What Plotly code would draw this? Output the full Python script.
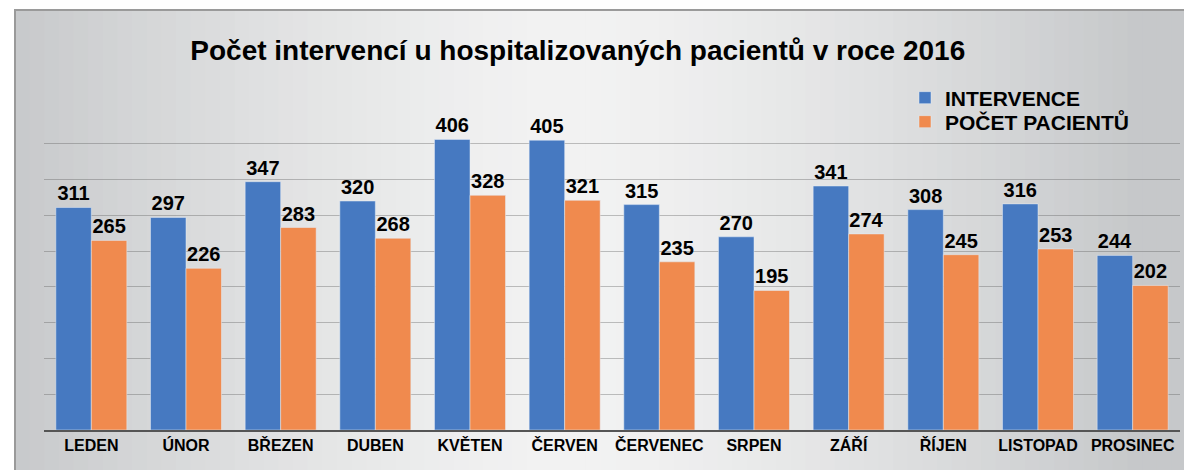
import plotly.graph_objects as go

# Data
mesice = ["LEDEN", "ÚNOR", "BŘEZEN", "DUBEN", "KVĚTEN", "ČERVEN",
          "ČERVENEC", "SRPEN", "ZÁŘÍ", "ŘÍJEN", "LISTOPAD", "PROSINEC"]
intervence = [311, 297, 347, 320, 406, 405, 315, 270, 341, 308, 316, 244]
pocet_pacientu = [265, 226, 283, 268, 328, 321, 235, 195, 274, 245, 253, 202]

W, H = 1184, 470
ML, MR, MT, MB = 44, 4, 108, 40
plot_w = W - ML - MR
plot_h = H - MT - MB
font = "Liberation Sans, Arial, sans-serif"


def px_x(p):
    return (p - ML) / plot_w


def px_y(p):
    return (H - MB - p) / plot_h


fig = go.Figure()

fig.add_trace(go.Bar(
    name="INTERVENCE", x=mesice, y=intervence,
    marker=dict(color="#4679c1"),
    text=intervence, textposition="outside",
    textfont=dict(family=font, size=20, color="black", weight="bold"),
    cliponaxis=False, legend="legend",
))
fig.add_trace(go.Bar(
    name="POČET PACIENTŮ", x=mesice, y=pocet_pacientu,
    marker=dict(color="#f08a4e"),
    text=pocet_pacientu, textposition="outside",
    textfont=dict(family=font, size=20, color="black", weight="bold"),
    cliponaxis=False, legend="legend2",
))

# grey gradient background inside the frame
shapes = []
n = 80
left, right = 15, W + 2
for i in range(n):
    a = left + (right - left) * i / n
    b = left + (right - left) * (i + 1) / n + 1
    t = (a + b) / 2
    d = abs(t - 570) / 570
    d = min(d, 1.0) ** 1.4
    c0, c1 = (243, 243, 243), (198, 200, 202)
    col = tuple(int(c0[k] + (c1[k] - c0[k]) * d) for k in range(3))
    shapes.append(dict(
        type="rect", xref="paper", yref="paper", layer="below",
        x0=px_x(a), x1=px_x(b), y0=px_y(H + 2), y1=px_y(10),
        fillcolor="rgb(%d,%d,%d)" % col, line=dict(width=0),
    ))
shapes.append(dict(
    type="rect", xref="paper", yref="paper", layer="above",
    x0=px_x(15), x1=px_x(W + 5), y0=px_y(H + 5), y1=px_y(10),
    fillcolor="rgba(0,0,0,0)", line=dict(color="#9a9a9a", width=2),
))

legend_style = dict(
    xanchor="left", yanchor="middle", bgcolor="rgba(0,0,0,0)",
    font=dict(family=font, size=21, color="black", weight="bold"),
)

fig.update_layout(
    width=W, height=H,
    margin=dict(l=ML, r=MR, t=MT, b=MB),
    paper_bgcolor="white",
    plot_bgcolor="rgba(0,0,0,0)",
    barmode="group", bargap=0.25, bargroupgap=0,
    shapes=shapes,
    title=dict(
        text="Počet intervencí u hospitalizovaných pacientů v roce 2016",
        x=0.488, xanchor="center", y=1 - 50 / H, yanchor="middle",
        font=dict(family=font, size=28, color="black", weight="bold"),
    ),
    legend=dict(x=px_x(905), y=px_y(98), **legend_style),
    legend2=dict(x=px_x(905), y=px_y(122), **legend_style),
    showlegend=True,
    xaxis=dict(
        showline=True, linecolor="#555555", linewidth=2,
        tickfont=dict(family=font, size=16, color="black", weight="bold"),
        ticks="", showgrid=False,
    ),
    yaxis=dict(
        range=[0, 450], dtick=50, showticklabels=False,
        showgrid=True, gridcolor="rgba(90,90,90,0.36)", gridwidth=1,
        zeroline=False,
    ),
)

fig.write_html("out.html", config={"displayModeBar": False},
               post_script="document.body.style.margin='0';")
